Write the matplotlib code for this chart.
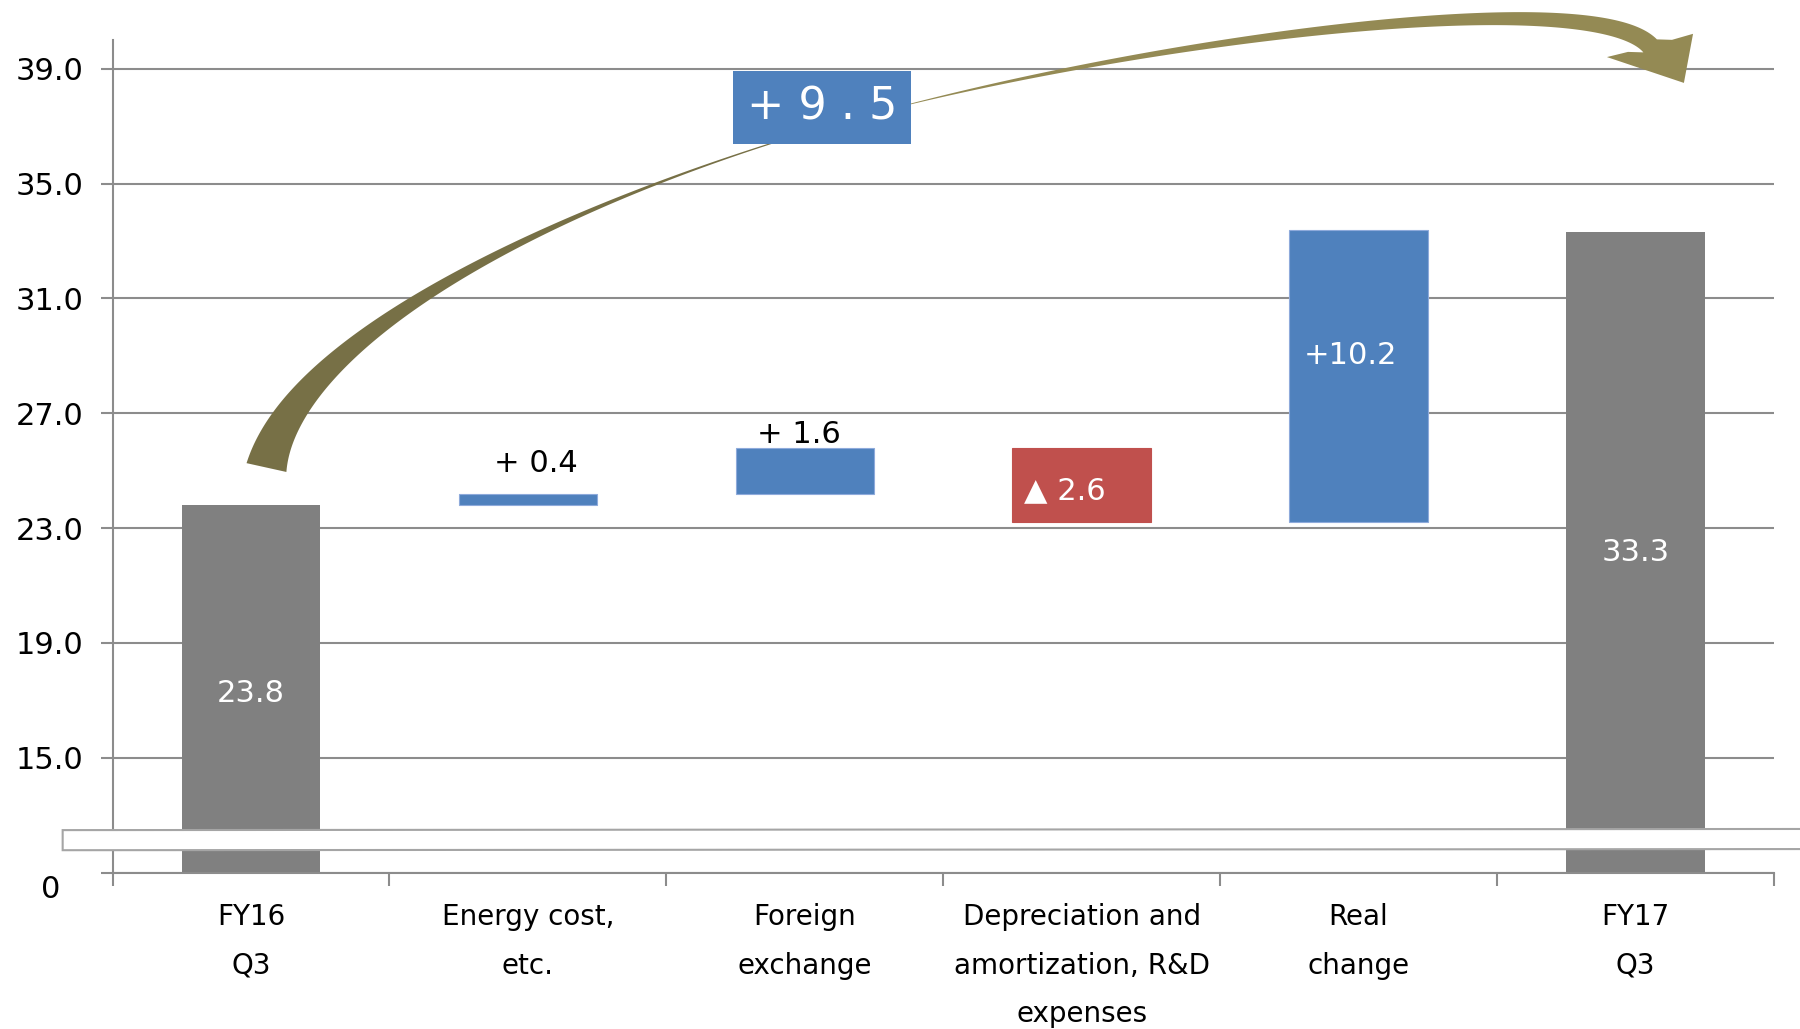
import matplotlib
matplotlib.use("Agg")
import matplotlib.pyplot as plt
import numpy as np
from matplotlib.patches import Polygon, Rectangle
from matplotlib import transforms

# ---- data ----
categories = ["FY16\nQ3", "Energy cost,\netc.", "Foreign\nexchange",
              "Depreciation and\namortization, R&D\nexpenses", "Real\nchange", "FY17\nQ3"]
start_value = 23.8
end_value = 33.3
changes = [0.4, 1.6, -2.6, 10.2]
change_labels = ["+ 0.4", "+ 1.6", "\u25b2 2.6", "+10.2"]
total_label = "+ 9 . 5"
y_ticks = [11, 15, 19, 23, 27, 31, 35, 39]
y_tick_labels = ["0", "15.0", "19.0", "23.0", "27.0", "31.0", "35.0", "39.0"]
axis_floor = 11  # broken axis, the "0" tick sits here

GRAY = "#808080"
BLUE = "#4F81BD"
RED = "#C0504D"
AXIS = "#8c8c8c"
OLIVE_DARK = "#777046"
OLIVE = "#948A54"

fig = plt.figure(figsize=(18, 10.29), dpi=100)
ax = fig.add_axes([0.0625, 0.152, 0.923, 0.809])
ax.set_xlim(-0.5, 5.5)
ax.set_ylim(axis_floor, 40)

x = np.arange(len(categories))
width = 0.5

# totals
ax.bar(x[0], start_value - axis_floor, width, bottom=axis_floor, color=GRAY, zorder=2)
ax.bar(x[-1], end_value - axis_floor, width, bottom=axis_floor, color=GRAY, zorder=2)

# changes
running = start_value
tops = []
for i, c in enumerate(changes):
    lo = min(running, running + c)
    col = BLUE if c > 0 else RED
    ax.bar(x[i + 1], abs(c), width, bottom=lo, color=col, zorder=2,
           edgecolor="#8eaadb" if c > 0 else col, linewidth=0.8)
    tops.append((lo, lo + abs(c)))
    running += c

# value labels
ax.text(x[0], (start_value + axis_floor) / 2 - 0.15, f"{start_value}", color="white",
        fontsize=22, ha="center", va="center", zorder=5)
ax.text(x[-1], (end_value + axis_floor) / 2, f"{end_value}", color="white",
        fontsize=22, ha="center", va="center", zorder=5)
ax.annotate(change_labels[0], (x[1] + 0.03, tops[0][1]), xytext=(0, 11),
            textcoords="offset points", ha="center", va="bottom", fontsize=22, zorder=5)
ax.annotate(change_labels[1], (x[2] - 0.02, tops[1][1]), xytext=(0, -1),
            textcoords="offset points", ha="center", va="bottom", fontsize=22, zorder=5)
ax.text(x[3] - 0.06, (tops[2][0] + tops[2][1]) / 2 - 0.2, change_labels[2], color="white",
        fontsize=22, ha="center", va="center", zorder=5)
ax.text(x[4] - 0.03, tops[3][0] + 0.57 * (tops[3][1] - tops[3][0]), change_labels[3],
        color="white", fontsize=22, ha="center", va="center", zorder=5)

# axes styling
ax.set_yticks(y_ticks)
ax.set_yticklabels(y_tick_labels)
ax.yaxis.grid(True, color=AXIS, linewidth=1.5, zorder=0)
ax.set_axisbelow(True)
for s in ["top", "right"]:
    ax.spines[s].set_visible(False)
for s in ["left", "bottom"]:
    ax.spines[s].set_color(AXIS)
    ax.spines[s].set_linewidth(1.5)
ax.tick_params(axis="y", length=9, width=1.5, color=AXIS, labelsize=22, pad=12)
ax.set_xticks(x)
ax.set_xticklabels(categories)
ax.set_xticks(np.arange(-0.5, 6, 1), minor=True)
ax.tick_params(axis="x", which="major", length=0, labelsize=20, pad=22)
ax.tick_params(axis="x", which="minor", length=9, width=1.5, color=AXIS)
for tl in ax.get_xticklabels():
    tl.set_linespacing(1.93)
zero_lab = ax.get_yticklabels()[0]
zero_lab.set_transform(zero_lab.get_transform() +
                       transforms.ScaledTranslation(-0.23, -0.14, fig.dpi_scale_trans))

# axis break band
band_tr = transforms.blended_transform_factory(ax.transAxes, ax.transData)
ax.add_patch(Polygon([(-0.03, 11.78), (1.03, 11.82), (1.03, 12.52), (-0.03, 12.48)],
                     closed=True, facecolor="white", edgecolor="#a5a5a5", linewidth=1.5,
                     transform=band_tr, clip_on=False, zorder=6))


# curved "+9.5" arrow, built in pixel space then mapped back to data
def bezier(p, t):
    t = t[:, None]
    return ((1 - t) ** 3) * p[0] + 3 * ((1 - t) ** 2) * t * p[1] + 3 * (1 - t) * t ** 2 * p[2] + t ** 3 * p[3]


def ribbon(ctrl, w):
    c = ax.transData.transform(bezier(ctrl, t))
    tg = np.gradient(c, axis=0)
    tg /= np.linalg.norm(tg, axis=1)[:, None]
    nrm = np.column_stack([-tg[:, 1], tg[:, 0]])
    inv = ax.transData.inverted().transform
    return inv(c + nrm * w[:, None] / 2), inv(c - nrm * w[:, None] / 2)


seg_a = np.array([[0.056, 25.11], [0.168, 30.22], [1.332, 35.27], [2.384, 37.78]])
seg_b = np.array([[2.384, 37.78], [3.435, 40.29], [4.857, 41.85], [5.053, 39.80]])
t = np.linspace(0, 1, 200)

up_a, lo_a = ribbon(seg_a, 40 * (1 - t) ** 2.5 + 0.8)
ax.add_patch(Polygon(np.vstack([lo_a, up_a[::-1]]), closed=True, facecolor=OLIVE_DARK,
                     edgecolor="none", clip_on=False, zorder=3))
up_b, lo_b = ribbon(seg_b, 0.8 + 18 * t)
head = [(4.973, 39.59), (4.897, 39.41), (5.175, 38.51), (5.208, 40.22), (5.132, 40.01)]
ax.add_patch(Polygon(np.vstack([lo_b, head, up_b[::-1]]), closed=True, facecolor=OLIVE,
                     edgecolor="none", clip_on=False, zorder=3))

# total change box
ax.add_patch(Rectangle((1.741, 36.38), 2.384 - 1.741, 38.93 - 36.38, facecolor=BLUE,
                       edgecolor="none", zorder=4, clip_on=False))
ax.text((1.741 + 2.384) / 2, (36.38 + 38.93) / 2, total_label, color="white", fontsize=32,
        ha="center", va="center", zorder=5)

fig.savefig("out.png", dpi=100)
